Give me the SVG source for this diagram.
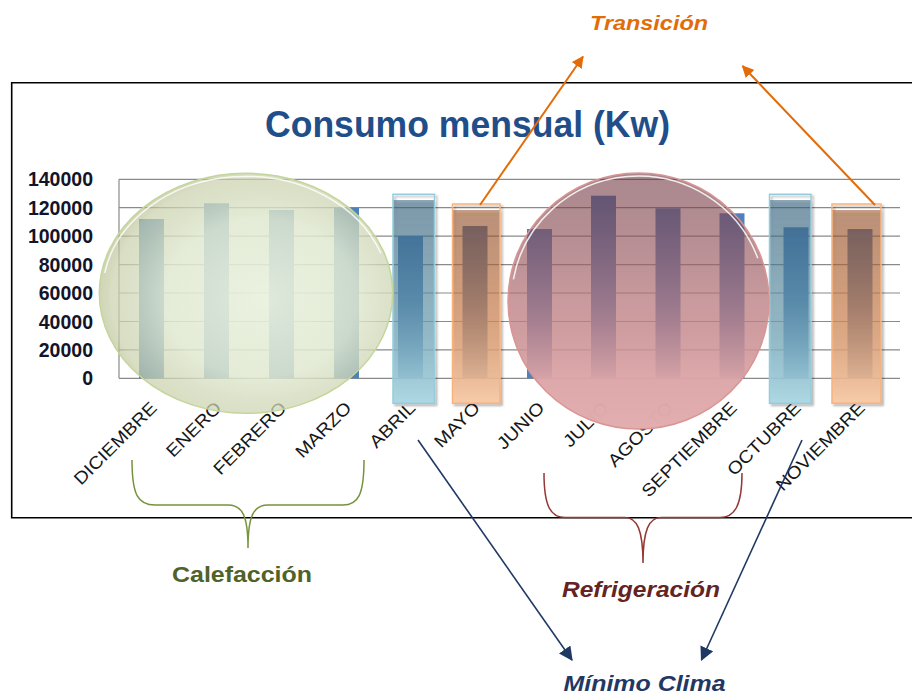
<svg xmlns="http://www.w3.org/2000/svg" width="912" height="695" viewBox="0 0 912 695">
<style>
.grid{stroke:#8a8a8a;stroke-width:1.2;fill:none}
.ylab{font-family:"Liberation Sans",Arial,sans-serif;font-size:19.5px;font-weight:bold;fill:#141428;text-anchor:end}
.xlab{font-family:"Liberation Sans",Arial,sans-serif;font-size:17.5px;fill:#161616;text-anchor:end}
.bar{fill:#4f81bd}
.note{font-family:"Liberation Sans",Arial,sans-serif;font-weight:bold}
</style>
<defs>
<linearGradient id="gBlue" x1="0" y1="0" x2="0" y2="1">
<stop offset="0" stop-color="rgb(50,95,125)" stop-opacity="0.55"/>
<stop offset="0.5" stop-color="rgb(98,150,170)" stop-opacity="0.62"/>
<stop offset="1" stop-color="rgb(172,216,228)" stop-opacity="0.97"/>
</linearGradient>
<linearGradient id="gOrange" x1="0" y1="0" x2="0" y2="1">
<stop offset="0" stop-color="rgb(145,68,24)" stop-opacity="0.5"/>
<stop offset="0.5" stop-color="rgb(205,130,80)" stop-opacity="0.65"/>
<stop offset="1" stop-color="rgb(248,203,168)" stop-opacity="0.97"/>
</linearGradient>
<linearGradient id="gPink" x1="0" y1="0" x2="0" y2="1">
<stop offset="0" stop-color="rgb(100,40,50)" stop-opacity="0.55"/>
<stop offset="0.5" stop-color="rgb(180,115,120)" stop-opacity="0.72"/>
<stop offset="0.8" stop-color="rgb(220,164,166)" stop-opacity="0.95"/>
<stop offset="1" stop-color="rgb(226,174,176)" stop-opacity="1"/>
</linearGradient>
<radialGradient id="gGreen" cx="0.55" cy="0.52" r="0.6">
<stop offset="0" stop-color="rgb(233,241,222)" stop-opacity="0.94"/>
<stop offset="0.55" stop-color="rgb(224,232,208)" stop-opacity="0.86"/>
<stop offset="0.85" stop-color="rgb(200,207,170)" stop-opacity="0.7"/>
<stop offset="1" stop-color="rgb(150,160,90)" stop-opacity="0.5"/>
</radialGradient>
<filter id="sh" x="-10%" y="-10%" width="130%" height="130%">
<feDropShadow dx="2" dy="2" stdDeviation="1" flood-color="#000" flood-opacity="0.3"/>
</filter>
<marker id="arO" viewBox="0 0 12 12" refX="11" refY="6" markerWidth="12" markerHeight="12" markerUnits="userSpaceOnUse" orient="auto">
<path d="M0,0 L12,6 L0,12 Z" fill="#e36c09"/>
</marker>
<marker id="arB" viewBox="0 0 12 12" refX="11" refY="6" markerWidth="14" markerHeight="14" markerUnits="userSpaceOnUse" orient="auto">
<path d="M0,0 L12,6 L0,12 Z" fill="#1f3864"/>
</marker>
</defs>

<rect width="912" height="695" fill="#fff"/>

<g id="frame">
<path d="M914,82.7 H11.7 V517.7 H914" fill="none" stroke="#000" stroke-width="1.6"/>
</g>

<g id="title">
<text class="note" x="265" y="136.7" font-size="37" fill="#1f4e8a" textLength="405" lengthAdjust="spacingAndGlyphs">Consumo mensual (Kw)</text>
</g>

<g id="plot">
<path class="grid" d="M119,179.3 H900 M119,207.7 H900 M119,236.2 H900 M119,264.6 H900 M119,293 H900 M119,321.5 H900 M119,349.9 H900 M119,378.3 H900 M119,179.3 V378.3"/>
<g id="ylabels">
<text class="ylab" x="93" y="186.3">140000</text>
<text class="ylab" x="93" y="214.7">120000</text>
<text class="ylab" x="93" y="243.2">100000</text>
<text class="ylab" x="93" y="271.6">80000</text>
<text class="ylab" x="93" y="300">60000</text>
<text class="ylab" x="93" y="328.5">40000</text>
<text class="ylab" x="93" y="356.9">20000</text>
<text class="ylab" x="93" y="385.3">0</text>
</g>
<g id="bars">
<rect class="bar" x="139" y="219" width="25" height="159.3"/>
<rect class="bar" x="204" y="203.3" width="25" height="175"/>
<rect class="bar" x="269" y="210" width="25" height="168.3"/>
<rect class="bar" x="334" y="207.7" width="25" height="170.6"/>
<rect class="bar" x="398" y="236" width="25" height="142.3"/>
<rect class="bar" x="462.5" y="226" width="25" height="152.3"/>
<rect class="bar" x="527" y="229" width="25" height="149.3"/>
<rect class="bar" x="591" y="195.7" width="25" height="182.6"/>
<rect class="bar" x="655.5" y="208.3" width="25" height="170"/>
<rect class="bar" x="719.5" y="213.3" width="25" height="165"/>
<rect class="bar" x="783.5" y="227.3" width="25" height="151"/>
<rect class="bar" x="847.5" y="229" width="25" height="149.3"/>
</g>
<g id="xlabels">
<text class="xlab" transform="translate(158,409) rotate(-45) scale(1.12,1)">DICIEMBRE</text>
<text class="xlab" transform="translate(222.5,409) rotate(-45) scale(1.12,1)">ENERO</text>
<text class="xlab" transform="translate(287.5,409) rotate(-45) scale(1.12,1)">FEBRERO</text>
<text class="xlab" transform="translate(352.5,409) rotate(-45) scale(1.12,1)">MARZO</text>
<text class="xlab" transform="translate(416.5,409) rotate(-45) scale(1.12,1)">ABRIL</text>
<text class="xlab" transform="translate(481,409) rotate(-45) scale(1.12,1)">MAYO</text>
<text class="xlab" transform="translate(545.5,409) rotate(-45) scale(1.12,1)">JUNIO</text>
<text class="xlab" transform="translate(609.5,409) rotate(-45) scale(1.12,1)">JULIO</text>
<text class="xlab" transform="translate(674,409) rotate(-45) scale(1.12,1)">AGOSTO</text>
<text class="xlab" transform="translate(738,409) rotate(-45) scale(1.12,1)">SEPTIEMBRE</text>
<text class="xlab" transform="translate(802,409) rotate(-45) scale(1.12,1)">OCTUBRE</text>
<text class="xlab" transform="translate(866,409) rotate(-45) scale(1.12,1)">NOVIEMBRE</text>
</g>
</g>

<g id="box-abril" filter="url(#sh)">
<rect x="393" y="200" width="41.5" height="203" fill="url(#gBlue)"/>
<rect x="393" y="194.3" width="41.5" height="209" fill="none" stroke="#93cddd" stroke-width="1.5"/>
</g>
<g id="box-octubre" filter="url(#sh)">
<rect x="769.5" y="200" width="41.5" height="203" fill="url(#gBlue)"/>
<rect x="769.5" y="194.3" width="41.5" height="209" fill="none" stroke="#93cddd" stroke-width="1.5"/>
</g>
<g id="box-mayo" filter="url(#sh)">
<rect x="452.5" y="210" width="47.5" height="193" fill="url(#gOrange)"/>
<rect x="452.5" y="204" width="47.5" height="199.3" fill="none" stroke="#f9b27a" stroke-width="1.5"/>
</g>
<g id="box-noviembre" filter="url(#sh)">
<rect x="832" y="210" width="49" height="193" fill="url(#gOrange)"/>
<rect x="832" y="204" width="49" height="199.3" fill="none" stroke="#f9b27a" stroke-width="1.5"/>
</g>

<g id="ellipse-calefaccion">
<ellipse cx="246" cy="293.3" rx="146.7" ry="120" fill="url(#gGreen)" stroke="#c3d69b" stroke-width="1.5"/>
<path d="M104.7,273 A143.5,117 0 0 1 380.8,253.3" fill="none" stroke="#fff" stroke-width="1.5" stroke-opacity="0.8"/>
</g>
<g id="ellipse-refrigeracion">
<ellipse cx="638.5" cy="301" rx="130.5" ry="128" fill="url(#gPink)" stroke="#d99594" stroke-width="1.5"/>
<path d="M513.4,279.3 A127,125 0 0 1 757.8,258.2" fill="none" stroke="#fff" stroke-width="1.5" stroke-opacity="0.85"/>
</g>

<g id="connectors">
<path d="M132,460 C132,495 138,505 155,505 L228,505 C242,505 248,515 248,548 C248,515 254,505 268,505 L343,505 C358,505 364,495 364,460" fill="none" stroke="#77933c" stroke-width="1.5"/>
<path d="M544,473 C544,505 550,517.5 565,517.5 L625,517.5 C637,517.5 643,530 643,563 C643,530 649,517.5 661,517.5 L720,517.5 C735,517.5 742,505 742,473" fill="none" stroke="#953735" stroke-width="1.5"/>
<line x1="480" y1="205" x2="583" y2="56.5" stroke="#e36c09" stroke-width="2" marker-end="url(#arO)"/>
<line x1="875" y1="205" x2="742.5" y2="66" stroke="#e36c09" stroke-width="2" marker-end="url(#arO)"/>
<line x1="418" y1="440" x2="572" y2="660" stroke="#1f3864" stroke-width="1.6" marker-end="url(#arB)"/>
<line x1="802" y1="440" x2="701.5" y2="660" stroke="#1f3864" stroke-width="1.6" marker-end="url(#arB)"/>
</g>

<g id="label-transicion">
<text class="note" x="590" y="30" font-size="21" font-style="italic" fill="#e36c09" textLength="118" lengthAdjust="spacingAndGlyphs">Transición</text>
</g>
<g id="label-calefaccion">
<text class="note" x="172" y="581.7" font-size="22" fill="#4f6228" textLength="140" lengthAdjust="spacingAndGlyphs">Calefacción</text>
</g>
<g id="label-refrigeracion">
<text class="note" x="562" y="596.7" font-size="22" font-style="italic" fill="#632423" textLength="158" lengthAdjust="spacingAndGlyphs">Refrigeración</text>
</g>
<g id="label-minimo">
<text class="note" x="563.5" y="691" font-size="22" font-style="italic" fill="#1f3864" textLength="162" lengthAdjust="spacingAndGlyphs">Mínimo Clima</text>
</g>
</svg>
